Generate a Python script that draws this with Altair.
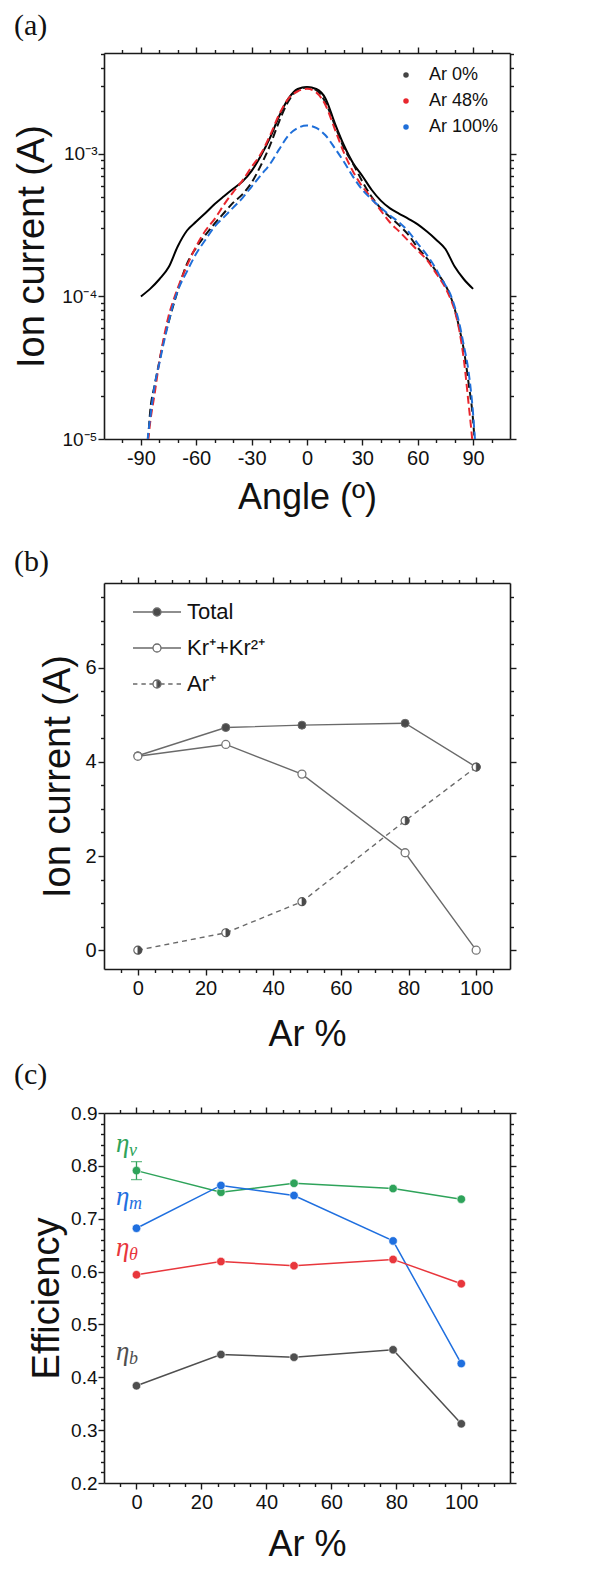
import altair as alt
import pandas as pd

SANS = "Liberation Sans"
SERIF = "Liberation Serif"
INK = "#1a1a1a"

# ---------------- Panel (a): angular ion current profiles ----------------
solid_ang = [-90, -85, -80, -75, -70, -65, -60, -55, -50, -45, -40, -35, -30, -25, -20, -15, -10, -5, 0,
             5, 10, 15, 20, 25, 30, 35, 40, 45, 50, 55, 60, 65, 70, 75, 80, 85, 90]
solid_cur = [1.00e-4, 1.13e-4, 1.32e-4, 1.60e-4, 2.25e-4, 2.90e-4, 3.35e-4, 3.85e-4, 4.45e-4, 5.05e-4,
             5.70e-4, 6.40e-4, 7.60e-4, 9.70e-4, 1.30e-3, 1.85e-3, 2.45e-3, 2.85e-3, 2.95e-3,
             2.85e-3, 2.45e-3, 1.65e-3, 1.15e-3, 8.60e-4, 7.00e-4, 5.60e-4, 4.70e-4, 4.15e-4, 3.80e-4,
             3.50e-4, 3.20e-4, 2.85e-4, 2.50e-4, 2.15e-4, 1.62e-4, 1.32e-4, 1.13e-4]

ar0_ang = [-87, -86, -85, -82.5, -80, -77.5, -75, -72.5, -70, -65, -60, -55, -50, -45, -40, -35, -30, -25,
           -20, -15, -10, -5, 0, 5, 10, 15, 20, 25, 30, 35, 40, 45, 50, 55, 60, 65, 70, 72.5, 75, 77.5,
           80, 82.5, 85, 87.5, 90, 91]
ar0_cur = [8e-6, 1.05e-5, 1.55e-5, 2.4e-5, 3.5e-5, 5.0e-5, 6.6e-5, 8.6e-5, 1.1e-4, 1.7e-4, 2.2e-4, 2.7e-4,
           3.25e-4, 3.85e-4, 4.55e-4, 5.2e-4, 6.3e-4, 8.3e-4, 1.15e-3, 1.7e-3, 2.35e-3, 2.8e-3, 2.92e-3,
           2.8e-3, 2.3e-3, 1.6e-3, 1.1e-3, 8.5e-4, 6.4e-4, 5.0e-4, 4.15e-4, 3.6e-4, 3.15e-4, 2.7e-4,
           2.2e-4, 1.85e-4, 1.5e-4, 1.35e-4, 1.2e-4, 1.02e-4, 8.2e-5, 6.0e-5, 4.2e-5, 2.5e-5, 1.35e-5, 9e-6]

ar48_ang = [-87, -86, -85, -82.5, -80, -77.5, -75, -72.5, -70, -65, -60, -55, -50, -45, -40, -35, -30, -25,
            -20, -15, -10, -5, 0, 5, 10, 15, 20, 25, 30, 35, 40, 45, 50, 55, 60, 65, 70, 72.5, 75, 77.5,
            80, 82.5, 85, 87.5, 89.5, 90.5]
ar48_cur = [8e-6, 1.0e-5, 1.3e-5, 2.1e-5, 3.5e-5, 5.2e-5, 7.3e-5, 9.3e-5, 1.15e-4, 1.65e-4, 2.25e-4, 2.9e-4,
            3.5e-4, 4.4e-4, 5.4e-4, 6.5e-4, 8.1e-4, 1.0e-3, 1.35e-3, 1.9e-3, 2.45e-3, 2.75e-3, 2.86e-3,
            2.7e-3, 2.2e-3, 1.5e-3, 1.02e-3, 7.5e-4, 5.9e-4, 4.9e-4, 4.0e-4, 3.3e-4, 2.85e-4, 2.45e-4,
            2.1e-4, 1.8e-4, 1.45e-4, 1.3e-4, 1.15e-4, 9.8e-5, 8.0e-5, 5.8e-5, 3.6e-5, 1.8e-5, 1.0e-5, 7e-6]

ar100_ang = [-87, -86, -85, -82.5, -80, -77.5, -75, -72.5, -70, -65, -60, -55, -50, -45, -40, -35, -30, -25,
             -20, -15, -10, -5, 0, 5, 10, 15, 20, 25, 30, 35, 40, 45, 50, 55, 60, 65, 70, 72.5, 75, 77.5,
             80, 82.5, 85, 87.5, 90, 91.5]
ar100_cur = [8e-6, 1.1e-5, 1.4e-5, 2.4e-5, 3.4e-5, 4.8e-5, 6.6e-5, 8.8e-5, 1.1e-4, 1.5e-4, 2.0e-4, 2.5e-4,
             3.1e-4, 3.6e-4, 4.2e-4, 4.9e-4, 5.9e-4, 7.1e-4, 8.5e-4, 1.08e-3, 1.35e-3, 1.52e-3, 1.58e-3,
             1.52e-3, 1.35e-3, 1.1e-3, 8.8e-4, 6.9e-4, 5.6e-4, 4.8e-4, 4.2e-4, 3.7e-4, 3.3e-4, 2.85e-4,
             2.35e-4, 1.95e-4, 1.55e-4, 1.35e-4, 1.2e-4, 1.05e-4, 8.5e-5, 6.5e-5, 4.5e-5, 3.0e-5, 1.5e-5, 8e-6]

series_a = ["Ar 0%", "Ar 48%", "Ar 100%"]
colors_a = ["#111111", "#e8262d", "#1f6fd9"]
legend_dot_a = ["#444444", "#e8262d", "#1f6fd9"]

# ---------------- Panel (b): ion current vs Ar fraction ----------------
ar_pct = [0, 26, 48.5, 79, 100]
total_cur = [4.13, 4.73, 4.78, 4.82, 3.89]
kr_cur = [4.12, 4.37, 3.74, 2.07, 0.0]
arp_cur = [0.0, 0.37, 1.03, 2.75, 3.89]
series_b = ["Total", "Kr⁺+Kr²⁺", "Ar⁺"]

# ---------------- Panel (c): efficiencies ----------------
eta_v = [0.791, 0.750, 0.767, 0.757, 0.737]
eta_m = [0.682, 0.763, 0.744, 0.658, 0.426]
eta_t = [0.594, 0.619, 0.611, 0.623, 0.577]
eta_b = [0.384, 0.443, 0.438, 0.452, 0.312]
err_x = [0]
err_lo = [0.774]
err_hi = [0.808]
series_c = ["v", "m", "θ", "b"]
colors_c = ["#2ea35a", "#1f6fdf", "#e8363c", "#4f4f4f"]
lab_x = [-6.3, -6.3, -6.3, -6.3]
lab_y = [0.842, 0.741, 0.644, 0.447]

# tick positions
xa_major = [-90, -60, -30, 0, 30, 60, 90]
xa_minor = [-100, -80, -70, -50, -40, -20, -10, 10, 20, 40, 50, 70, 80, 100]
ya_major = [1e-5, 1e-4, 1e-3]
ya_minor = [2e-5, 3e-5, 4e-5, 5e-5, 6e-5, 7e-5, 8e-5, 9e-5,
            2e-4, 3e-4, 4e-4, 5e-4, 6e-4, 7e-4, 8e-4, 9e-4,
            2e-3, 3e-3, 4e-3, 5e-3]
xb_major = [0, 20, 40, 60, 80, 100]
xb_minor = [-5, 5, 10, 15, 25, 30, 35, 45, 50, 55, 65, 70, 75, 85, 90, 95, 105]
xc_minor = xb_minor + [110]
yb_major = [0, 2, 4, 6]
yb_minor = [0.5, 1, 1.5, 2.5, 3, 3.5, 4.5, 5, 5.5, 6.5, 7, 7.5]
yc_major = [0.2, 0.3, 0.4, 0.5, 0.6, 0.7, 0.8, 0.9]
yc_minor = [round(0.2 + 0.02 * i, 2) for i in range(36) if i % 5 != 0]

# ---------------- data frames ----------------
df_solid = pd.DataFrame({"ang": solid_ang, "cur": solid_cur})
df_dash = pd.concat([
    pd.DataFrame({"ang": ar0_ang, "cur": ar0_cur, "series": series_a[0]}),
    pd.DataFrame({"ang": ar48_ang, "cur": ar48_cur, "series": series_a[1]}),
    pd.DataFrame({"ang": ar100_ang, "cur": ar100_cur, "series": series_a[2]}),
])
df_b = pd.concat([
    pd.DataFrame({"ar": ar_pct, "cur": total_cur, "series": series_b[0]}),
    pd.DataFrame({"ar": ar_pct, "cur": kr_cur, "series": series_b[1]}),
    pd.DataFrame({"ar": ar_pct, "cur": arp_cur, "series": series_b[2]}),
])
df_c = pd.concat([
    pd.DataFrame({"ar": ar_pct, "eff": vals, "series": s})
    for s, vals in zip(series_c, [eta_v, eta_m, eta_t, eta_b])
])
df_err = pd.DataFrame({"ar": err_x, "lo": err_lo, "hi": err_hi})
df_err_caps = pd.DataFrame({"ar": err_x * 2, "eff": err_lo + err_hi})
df_lab = pd.DataFrame({"ar": lab_x, "eff": lab_y, "sub": series_c, "col": colors_c})


def ax(orient, values, size, labels=False, title=None, domain=False, **kw):
    return alt.Axis(orient=orient, values=values, tickSize=size, labels=labels, title=title,
                    domain=domain, domainColor=INK, domainWidth=1.6, grid=False,
                    tickColor=INK, tickWidth=1.4,
                    labelFont=SANS, labelColor="#111", labelOverlap=False, labelFlush=False,
                    titleFont=SANS, titleFontWeight="normal", titleColor="#111", **kw)


def ticks_only(df, xf, yf, xs, ys, xaxis, yaxis):
    return alt.Chart(df).transform_filter("false").mark_point(opacity=0).encode(
        x=alt.X(xf, type="quantitative", scale=xs, axis=xaxis),
        y=alt.Y(yf, type="quantitative", scale=ys, axis=yaxis),
    )


def panel_title(txt, offset):
    return alt.TitleParams(txt, anchor="start", frame="group", font=SERIF, fontSize=30,
                           fontWeight="normal", color="#111", dx=-90, offset=offset)


PLAIN = "'' + datum.value"

# ================= Panel (a) =================
xs_a = alt.Scale(domain=[-110, 110], nice=False, zero=False)
ys_a = alt.Scale(type="log", domain=[1e-5, 5.1e-3], nice=False)
log_expr = "'10' + (datum.value < 5e-5 ? '⁻⁵' : datum.value < 5e-4 ? '⁻⁴' : '⁻³')"

solid = alt.Chart(df_solid).mark_line(color="#000", strokeWidth=2, interpolate="monotone", clip=True).encode(
    x=alt.X("ang:Q", scale=xs_a, axis=ax("bottom", xa_major, 6, labels=True, title="Angle (º)", domain=True,
                                          labelExpr=PLAIN, labelFontSize=20, labelPadding=3,
                                          titleFontSize=36, titlePadding=12)),
    y=alt.Y("cur:Q", scale=ys_a, axis=ax("left", ya_major, 6, labels=True, title="Ion current (A)", domain=True,
                                          labelExpr=log_expr, labelFontSize=19, labelPadding=1,
                                          titleFontSize=38, titlePadding=10)),
)
dashed = alt.Chart(df_dash).mark_line(strokeWidth=2, strokeDash=[8, 4], interpolate="monotone", clip=True).encode(
    x=alt.X("ang:Q", scale=xs_a, axis=ax("bottom", xa_minor, 3.5)),
    y=alt.Y("cur:Q", scale=ys_a, axis=ax("left", ya_minor, 3.5)),
    color=alt.Color("series:N", scale=alt.Scale(domain=series_a, range=colors_a), legend=None),
    detail="series:N",
)
leg_a = alt.Chart(df_dash).transform_filter("false").mark_circle(size=30, opacity=1).encode(
    x=alt.X("ang:Q", scale=xs_a, axis=ax("top", xa_major, 6, domain=True)),
    y=alt.Y("cur:Q", scale=ys_a, axis=ax("right", ya_major, 6, domain=True)),
    fill=alt.Fill("series:N", scale=alt.Scale(domain=series_a, range=legend_dot_a),
                  legend=alt.Legend(orient="none", legendX=293, legendY=13, title=None,
                                    labelFont=SANS, labelFontSize=18, labelColor="#111",
                                    symbolType="circle", symbolSize=30, symbolStrokeWidth=0,
                                    rowPadding=8, labelOffset=14, padding=0)),
)
tr_a = ticks_only(df_solid, "ang", "cur", xs_a, ys_a, ax("top", xa_minor, 3.5), ax("right", ya_minor, 3.5))

chart_a = alt.layer(solid, dashed, leg_a, tr_a).resolve_axis(x="independent", y="independent").resolve_scale(
    color="independent", fill="independent").properties(width=406, height=386, title=panel_title("(a)", 5))

# ================= Panel (b) =================
xs_b = alt.Scale(domain=[-10, 110], nice=False, zero=False)
ys_b = alt.Scale(domain=[-0.4, 7.8], nice=False, zero=False)
GRAY_LINE = "#6a6a6a"
DARK = "#4a4a4a"
HALF = "M0,-1A1,1,0,0,1,0,1Z"
CIRC = "M1,0A1,1,0,1,1,-1,0A1,1,0,1,1,1,0Z"
LEFT_ARC = "M0,-1A1,1,0,0,0,0,1A1,1,0,0,1,0,-1"
path_total = "M-6,0H-1M1,0H6" + CIRC
path_kr = "M-6,0H-1M1,0H6" + CIRC
path_ar = "M-6,0H-4.9M-3.9,0H-2.8M-1.9,0H-1M1,0H1.9M2.8,0H3.9M4.9,0H6" + HALF + LEFT_ARC


def sel(name):
    return alt.FieldEqualPredicate(field="series", equal=name)


def xb(axis):
    return alt.X("ar:Q", scale=xs_b, axis=axis)


def yb(axis):
    return alt.Y("cur:Q", scale=ys_b, axis=axis)


line_tot = alt.Chart(df_b).transform_filter(sel("Total")).mark_line(color=GRAY_LINE, strokeWidth=1.4).encode(
    x=xb(ax("bottom", xb_major, 6, labels=True, title="Ar %", domain=True, labelExpr=PLAIN, labelFontSize=20,
            labelPadding=3, titleFontSize=36, titlePadding=19)),
    y=yb(ax("left", yb_major, 6, labels=True, title="Ion current (A)", domain=True, labelExpr=PLAIN,
            labelFontSize=20, labelPadding=2, titleFontSize=38, titlePadding=7)),
)
line_kr = alt.Chart(df_b).transform_filter(sel("Kr⁺+Kr²⁺")).mark_line(color=GRAY_LINE, strokeWidth=1.4).encode(
    x=xb(ax("bottom", xb_minor, 3.5)), y=yb(ax("left", yb_minor, 3.5)))
line_ar = alt.Chart(df_b).transform_filter(sel("Ar⁺")).mark_line(
    color=GRAY_LINE, strokeWidth=1.4, strokeDash=[5, 4]).encode(x=xb(None), y=yb(None))
pt_tot = alt.Chart(df_b).transform_filter(sel("Total")).mark_point(
    shape="circle", filled=True, fill=DARK, stroke=GRAY_LINE, strokeWidth=1, size=64, opacity=1).encode(
    x=xb(None), y=yb(None))
pt_kr = alt.Chart(df_b).transform_filter(sel("Kr⁺+Kr²⁺")).mark_point(
    shape="circle", filled=True, fill="white", stroke="#777", strokeWidth=1.3, size=64, opacity=1).encode(
    x=xb(None), y=yb(None))
pt_ar = alt.Chart(df_b).transform_filter(sel("Ar⁺")).mark_point(
    shape="circle", filled=True, fill="white", stroke="#666", strokeWidth=1.2, size=64, opacity=1).encode(
    x=xb(None), y=yb(None))
pt_ar_half = alt.Chart(df_b).transform_filter(sel("Ar⁺")).mark_point(
    shape=HALF, filled=True, fill=DARK, stroke=DARK, strokeWidth=0.5, size=64, opacity=1).encode(
    x=xb(None), y=yb(None))

leg_b_def = alt.Legend(orient="none", legendX=42, legendY=18, title=None, labelFont=SANS, labelFontSize=22,
                       labelColor="#111", symbolSize=64, symbolStrokeWidth=1.3,
                       rowPadding=14, labelOffset=19, padding=0)
leg_b = alt.Chart(df_b).transform_filter("false").mark_point(
    filled=True, size=64, stroke=GRAY_LINE, strokeWidth=1.3, opacity=1).encode(
    x=xb(ax("top", xb_major, 6, domain=True)), y=yb(ax("right", yb_major, 6, domain=True)),
    shape=alt.Shape("series:N", scale=alt.Scale(domain=series_b, range=[path_total, path_kr, path_ar]),
                    legend=leg_b_def),
    fill=alt.Fill("series:N", scale=alt.Scale(domain=series_b, range=[DARK, "white", DARK]), legend=leg_b_def),
)
tr_b = ticks_only(df_b, "ar", "cur", xs_b, ys_b, ax("top", xb_minor, 3.5), ax("right", yb_minor, 3.5))

chart_b = alt.layer(line_tot, line_kr, line_ar, pt_tot, pt_kr, pt_ar, pt_ar_half, leg_b, tr_b).resolve_axis(
    x="independent", y="independent").properties(width=406, height=386, title=panel_title("(b)", -1))

# ================= Panel (c) =================
xs_c = alt.Scale(domain=[-10, 115], nice=False, zero=False)
ys_c = alt.Scale(domain=[0.2, 0.9], nice=False, zero=False)


def xc(axis):
    return alt.X("ar:Q", scale=xs_c, axis=axis)


def yc(f, axis):
    return alt.Y(f, type="quantitative", scale=ys_c, axis=axis)


col_c = alt.Color("series:N", scale=alt.Scale(domain=series_c, range=colors_c), legend=None)

lines_c = alt.Chart(df_c).mark_line(strokeWidth=1.5).encode(
    x=xc(ax("bottom", xb_major, 6, labels=True, title="Ar %", domain=True, labelExpr=PLAIN, labelFontSize=20,
            labelPadding=3, titleFontSize=36, titlePadding=15)),
    y=yc("eff", ax("left", yc_major, 6, labels=True, title="Efficiency", domain=True, format=".1f",
                   labelFontSize=19, labelPadding=1, titleFontSize=38, titlePadding=4)),
    color=col_c, detail="series:N",
)
pts_c = alt.Chart(df_c).mark_circle(size=72, opacity=1, stroke="white", strokeWidth=0.6).encode(
    x=xc(ax("bottom", xc_minor, 3.5)), y=yc("eff", ax("left", yc_minor, 3.5)), color=col_c)
err_rule = alt.Chart(df_err).mark_rule(color=colors_c[0], strokeWidth=1.3).encode(
    x=xc(None), y=yc("lo", None), y2="hi:Q")
err_caps = alt.Chart(df_err_caps).mark_tick(orient="horizontal", size=11, thickness=1.3, color=colors_c[0]).encode(
    x=xc(None), y=yc("eff", None))
eta_txt = alt.Chart(df_lab).mark_text(text="η", align="left", baseline="middle", font=SERIF, fontStyle="italic",
                                       fontSize=27).encode(
    x=xc(None), y=yc("eff", None), color=alt.Color("col:N", scale=None))
sub_txt = alt.Chart(df_lab).mark_text(align="left", baseline="middle", font=SERIF, fontStyle="italic",
                                       fontSize=18, dx=13, dy=7).encode(
    x=xc(None), y=yc("eff", None), text="sub:N", color=alt.Color("col:N", scale=None))
tr_c1 = ticks_only(df_c, "ar", "eff", xs_c, ys_c, ax("top", xb_major, 6, domain=True),
                   ax("right", yc_major, 6, domain=True))
tr_c2 = ticks_only(df_c, "ar", "eff", xs_c, ys_c, ax("top", xc_minor, 3.5), ax("right", yc_minor, 3.5))

chart_c = alt.layer(lines_c, pts_c, err_rule, err_caps, eta_txt, sub_txt, tr_c1, tr_c2).resolve_axis(
    x="independent", y="independent").properties(width=406, height=370, title=panel_title("(c)", 14))

chart = alt.vconcat(chart_a, chart_b, chart_c, spacing=144, bounds="flush").resolve_scale(
    color="independent", fill="independent", shape="independent").resolve_legend(
    color="independent", fill="independent", shape="independent").configure(
    font=SANS, background="white", padding={"left": 5, "top": 3, "right": 5, "bottom": 5}).configure_view(
    strokeWidth=0)

chart.save("out.html", embed_options={"renderer": "svg", "actions": False})
